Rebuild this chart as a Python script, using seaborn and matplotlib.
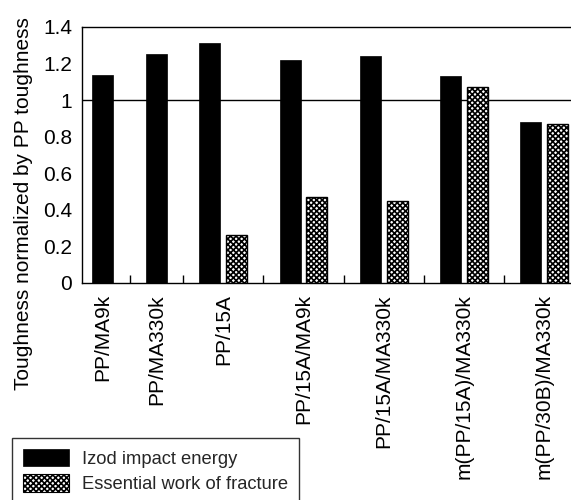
import matplotlib
matplotlib.use("Agg")
import matplotlib.pyplot as plt
from matplotlib.patches import Patch
from matplotlib.ticker import FuncFormatter, MultipleLocator, FixedLocator
import numpy as np
import pandas as pd
import seaborn as sns

# Samples and normalized toughness (relative to neat PP)
samples = ["PP/MA9k", "PP/MA330k", "PP/15A", "PP/15A/MA9k",
           "PP/15A/MA330k", "m(PP/15A)/MA330k", "m(PP/30B)/MA330k"]
izod = [1.14, 1.25, 1.31, 1.22, 1.24, 1.13, 0.88]
ewf = [None, None, 0.26, 0.47, 0.45, 1.07, 0.87]
series_names = ["Izod impact energy", "Essential work of fracture"]

# Lay the bars out on a slot grid: one slot per bar plus one empty slot per sample
rows, centers = [], []
slot = 0
for name, a, b in zip(samples, izod, ewf):
    first = slot
    rows.append({"slot": slot, "value": a, "series": series_names[0]})
    slot += 1
    if b is not None:
        rows.append({"slot": slot, "value": b, "series": series_names[1]})
        slot += 1
    centers.append((first + slot - 1) / 2)
    slot += 1
df = pd.DataFrame(rows)
last_slot = int(df["slot"].max())

sns.set_theme(style="white")
plt.rcParams["font.family"] = ["Liberation Sans", "DejaVu Sans"]
plt.rcParams["hatch.linewidth"] = 1.2
plt.rcParams["hatch.color"] = "black"

fig = plt.figure(figsize=(5.71, 5.0), dpi=100)
ax = fig.add_axes([82 / 571, 1 - 283 / 500, 1 - 82 / 571, 256 / 500])

sns.barplot(data=df, x="slot", y="value", hue="series", hue_order=series_names,
            palette=["black", "white"], native_scale=True, dodge=False,
            width=0.785, saturation=1, legend=False, ax=ax)

for patch in ax.containers[1]:
    patch.set_hatch("xxxxxx")
    patch.set_edgecolor("black")
    patch.set_linewidth(1.0)
for patch in ax.containers[0]:
    patch.set_edgecolor("black")
    patch.set_linewidth(0.5)

ax.axhline(1.0, color="black", lw=1.0, zorder=0.5)

ax.set_xlim(-0.785, last_slot + 0.5)
ax.set_ylim(0, 1.4)

# y axis
ax.yaxis.set_major_locator(MultipleLocator(0.2))
ax.yaxis.set_major_formatter(FuncFormatter(lambda v, p: f"{v:g}"))
ax.tick_params(axis="y", length=0, pad=7, labelsize=15, colors="black")
ax.set_ylabel("Toughness normalized by PP toughness", fontsize=15, color="black")
ax.yaxis.set_label_coords(-0.1, 0.31)

# x axis: labels at sample centers, small inward marks at every slot
ax.xaxis.set_major_locator(FixedLocator(centers))
ax.set_xticklabels(samples, rotation=90, fontsize=15, color="black", va="top")
ax.xaxis.set_minor_locator(FixedLocator(np.arange(last_slot + 1)))
ax.tick_params(axis="x", which="major", length=0, pad=8)
ax.tick_params(axis="x", which="minor", direction="in", length=6,
               width=1.0, color="black", bottom=True)
ax.set_xlabel("")

for side in ["left", "bottom", "top"]:
    ax.spines[side].set_visible(True)
    ax.spines[side].set_color("black")
    ax.spines[side].set_linewidth(1.0)
ax.spines["right"].set_visible(False)

handles = [Patch(facecolor="black", edgecolor="black", lw=0.5),
           Patch(facecolor="white", edgecolor="black", hatch="xxxxxx", lw=0.8)]
leg = fig.legend(handles, series_names, loc="upper left",
                 bbox_to_anchor=(12 / 571, 1 - 438 / 500),
                 bbox_transform=fig.transFigure, fontsize=13.2,
                 frameon=True, fancybox=False, handlelength=2.5,
                 handleheight=1.07, handletextpad=0.7, labelspacing=0.35,
                 borderpad=0.6, borderaxespad=0)
leg.get_frame().set_edgecolor("black")
leg.get_frame().set_linewidth(1.0)

fig.savefig("out.png", dpi=100)
